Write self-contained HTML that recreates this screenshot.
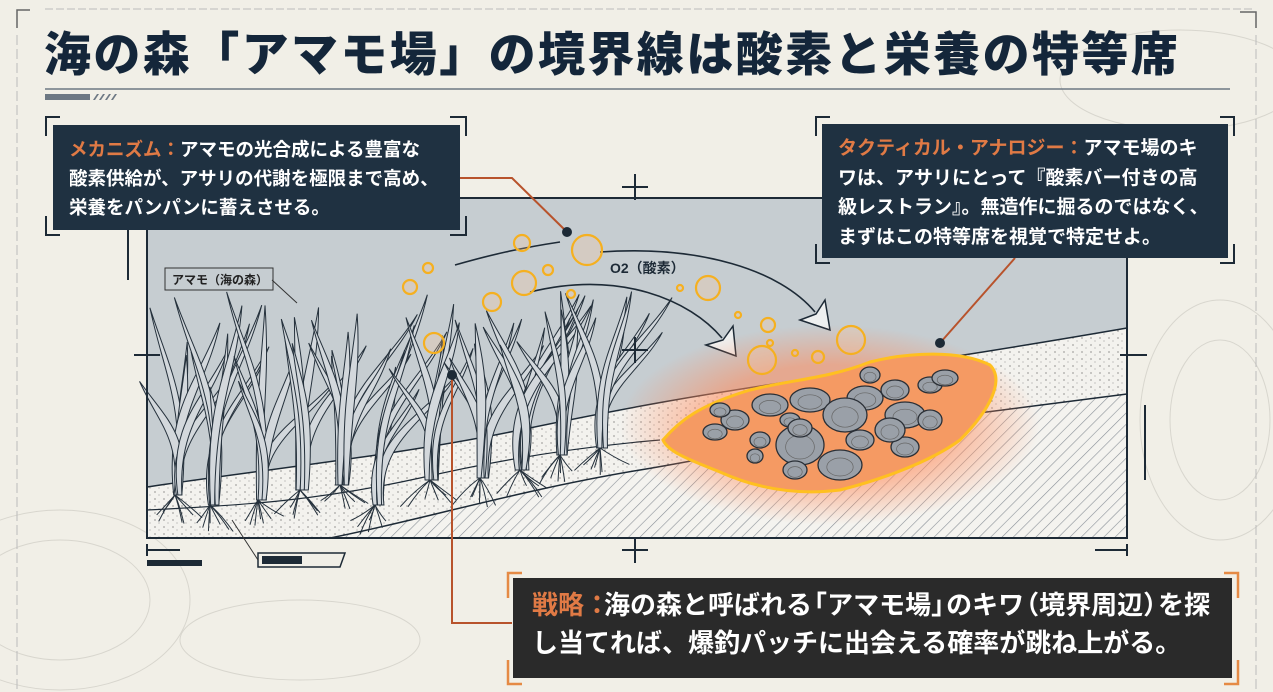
<!DOCTYPE html>
<html><head><meta charset="utf-8"><style>
html,body{margin:0;padding:0;}
body{width:1273px;height:692px;overflow:hidden;background:#f1efe7;position:relative;font-family:"Liberation Sans","Noto Sans CJK JP",sans-serif;}
.t{position:absolute;left:44px;top:20px;font-size:47px;font-weight:900;color:#14263a;letter-spacing:2.4px;white-space:nowrap;line-height:70px;}
.box{position:absolute;color:#fff;font-weight:700;white-space:nowrap;}
.or{color:#e07a45;}
.c{letter-spacing:-11px;}
.o{margin-left:-11px;}
svg{position:absolute;left:0;top:0;}
</style></head><body>
<svg id="s" width="1273" height="692" viewBox="0 0 1273 692">
<defs>
<pattern id="hatch" width="8" height="8" patternUnits="userSpaceOnUse" patternTransform="rotate(45)">
<rect width="8" height="8" fill="#f4f3ef"/><line x1="0" y1="0" x2="0" y2="8" stroke="#8a9098" stroke-width="1.2"/></pattern>
<pattern id="dots" width="9" height="7" patternUnits="userSpaceOnUse">
<rect width="9" height="7" fill="#f3f2ee"/><circle cx="2" cy="2" r="0.6" fill="#555"/><circle cx="6" cy="5" r="0.5" fill="#777"/></pattern>
<radialGradient id="glow" cx="50%" cy="50%" r="50%"><stop offset="0.6" stop-color="#ff8a5a" stop-opacity="0.55"/><stop offset="1" stop-color="#ff8a5a" stop-opacity="0"/></radialGradient>
</defs>
<g fill="none" stroke="#d8d6ce" stroke-width="1">
<ellipse cx="60" cy="600" rx="90" ry="60"/><ellipse cx="60" cy="600" rx="130" ry="90"/>
<ellipse cx="1220" cy="420" rx="80" ry="120"/><ellipse cx="1220" cy="420" rx="50" ry="80"/>
<ellipse cx="1180" cy="80" rx="120" ry="50"/><ellipse cx="300" cy="640" rx="120" ry="40"/>
</g>
<line x1="45" y1="9" x2="1255" y2="9" stroke="#bbb" stroke-dasharray="8 3"/>
<path d="M17 28 V10 H30" stroke="#666" fill="none" stroke-width="1.5"/>
<path d="M1240 12 H1256 V28" stroke="#666" fill="none" stroke-width="1.5"/>
<line x1="17" y1="35" x2="17" y2="690" stroke="#bbb" stroke-dasharray="10 4"/>
<line x1="1256" y1="35" x2="1256" y2="690" stroke="#bbb" stroke-dasharray="10 4"/>
<line x1="45" y1="89" x2="1230" y2="89" stroke="#6d7884" stroke-width="1.5"/>
<rect x="45" y="94" width="45" height="6" fill="#6d7884"/>
<g fill="#6d7884"><polygon points="93,100 97,94 99,94 95,100"/><polygon points="99,100 103,94 105,94 101,100"/><polygon points="105,100 109,94 111,94 107,100"/><polygon points="111,100 115,94 117,94 113,100"/></g>
<rect x="147" y="198" width="980" height="340" fill="#c6cdd1"/>
<path d="M147 487 C260 470 400 455 520 430 C640 405 700 395 800 380 C900 365 1000 350 1127 328 V538 H147 Z" fill="url(#dots)"/>
<path d="M330 538 C420 520 520 490 640 470 C760 450 820 432 940 418 C1020 408 1080 400 1127 394 V538 Z" fill="url(#hatch)"/>
<path d="M147 487 C260 470 400 455 520 430 C640 405 700 395 800 380 C900 365 1000 350 1127 328" fill="none" stroke="#1d2a36" stroke-width="1.5"/>
<path d="M330 538 C420 520 520 490 640 470 C760 450 820 432 940 418 C1020 408 1080 400 1127 394" fill="none" stroke="#1d2a36" stroke-width="1.5"/>
<path d="M147 510 C250 505 320 500 420 478 C520 455 600 445 660 440" fill="none" stroke="#1d2a36" stroke-width="1.2"/>
<g id="grass" fill="#d3d8dc" stroke="#25313c" stroke-width="1"></g>
<rect x="147" y="198" width="980" height="340" fill="none" stroke="#1d2a36" stroke-width="2"/>
<rect x="165" y="268" width="108" height="22" fill="#c6cdd1" stroke="#333" stroke-width="1"/>
<text x="172" y="284" font-size="12" font-weight="700" fill="#222" font-family="Liberation Sans,Noto Sans CJK JP,sans-serif">アマモ（海の森）</text>
<line x1="272" y1="280" x2="297" y2="303" stroke="#333"/>
<g fill="none" stroke="#1d2a36" stroke-width="1.6">
<path d="M455 265 C490 255 520 248 560 242"/>
<path d="M600 252 C700 245 780 270 815 312"/>
<path d="M530 292 C620 270 690 300 722 338"/>
</g>
<polygon points="800,320 830,330 825,300 816,314" fill="#eef0f0" stroke="#1d2a36" stroke-width="1.5"/>
<polygon points="706,345 736,356 733,326 723,340" fill="#eef0f0" stroke="#1d2a36" stroke-width="1.5"/>
<text x="610" y="273" font-size="14" font-weight="700" fill="#1d2a36" font-family="Liberation Sans,Noto Sans CJK JP,sans-serif">O2（酸素）</text>
<ellipse cx="830" cy="425" rx="210" ry="100" fill="url(#glow)"/>
<path d="M663 440 C680 420 700 405 750 390 C790 380 830 378 870 362 C910 352 960 350 990 365 C1005 380 990 410 960 440 C930 462 880 480 840 490 C800 495 760 490 720 472 C690 460 668 452 663 440 Z" fill="#f59a63" stroke="#ffc020" stroke-width="3"/>
<g id="clams" fill="#9aa0a8" stroke="#2a2f36" stroke-width="1.3"></g>
<g id="bub" fill="rgba(255,200,150,0.25)" stroke="#f5b020" stroke-width="2.2"></g>
<g fill="none" stroke="#1d2a36" stroke-width="2">
<path d="M46 136 V117 H60"/><path d="M450 117 H466 V136"/><path d="M46 216 V235 H60"/><path d="M450 235 H466 V216"/>
<path d="M816 136 V117 H830"/><path d="M1220 117 H1234 V136"/><path d="M816 244 V263 H830"/><path d="M1220 263 H1234 V244"/>
<path d="M128 198 V280"/><path d="M1145 405 V480"/>
<line x1="134" y1="355" x2="160" y2="355"/><line x1="147" y1="342" x2="147" y2="368"/>
<line x1="1120" y1="355" x2="1147" y2="355"/><line x1="1127" y1="342" x2="1127" y2="368"/>
<line x1="622" y1="187" x2="648" y2="187"/><line x1="635" y1="174" x2="635" y2="200"/>
<line x1="622" y1="550" x2="648" y2="550"/><line x1="635" y1="537" x2="635" y2="563"/>
<line x1="622" y1="350" x2="648" y2="350"/><line x1="635" y1="337" x2="635" y2="363"/>
<line x1="147" y1="550" x2="180" y2="550"/><line x1="147" y1="544" x2="147" y2="556"/>
<line x1="1095" y1="550" x2="1127" y2="550"/><line x1="1127" y1="544" x2="1127" y2="556"/>
</g>
<rect x="147" y="560" width="55" height="6" fill="#1d2a36"/>
<path d="M258 553 H345 L340 567 H258 Z" fill="none" stroke="#1d2a36" stroke-width="1.5"/>
<rect x="262" y="556" width="40" height="8" fill="#1d2a36"/>
<line x1="232" y1="520" x2="258" y2="560" stroke="#333"/>
<g fill="none" stroke="#e58a45" stroke-width="2.5">
<path d="M508 598 V573 H522"/><path d="M1224 573 H1238 V598"/><path d="M508 660 V684 H522"/><path d="M1224 684 H1238 V660"/>
</g>
<g stroke="#b8532c" stroke-width="2" fill="none">
<path d="M460 178 H512 L567 232"/><path d="M452 375 V623 H512"/><path d="M940 343 L1015 258"/>
</g>
<circle cx="567" cy="232" r="5" fill="#1d2a36"/><circle cx="452" cy="375" r="5" fill="#1d2a36"/><circle cx="940" cy="343" r="5" fill="#1d2a36"/>
</svg>
<div class="t">海の森「アマモ場」の境界線は酸素と栄養の特等席</div>
<div class="box" style="left:53px;top:125px;width:407px;height:105px;background:#1f3141;font-size:18.5px;line-height:29px;padding:10px 0 0 16px;box-sizing:border-box;"><span class="or">メカニズム：</span>アマモの光合成による豊富な<br>酸素供給が、アサリの代謝を極限まで高め、<br>栄養をパンパンに蓄えさせる。</div>
<div class="box" style="left:822px;top:124px;width:406px;height:134px;background:#1f3141;font-size:19px;line-height:29.5px;padding:10px 0 0 16px;box-sizing:border-box;"><span class="or">タクティカル・アナロジー：</span>アマモ場のキ<br>ワは、アサリにとって『酸素バー付きの高<br>級レストラン』。無造作に掘るのではなく、<br>まずはこの特等席を視覚で特定せよ。</div>
<div class="box" style="left:513px;top:578px;width:719px;height:100px;background:#2a2a2a;font-size:26px;line-height:38px;padding:8px 0 0 19px;box-sizing:border-box;"><span class="or">戦略<span style="letter-spacing:-6px">：</span></span>海の森と呼ばれる<span class="o">「</span>アマモ場<span class="c">」</span>のキワ<span class="o">（</span>境界周辺<span class="c">）</span>を探<br>し当てれば、爆釣パッチに出会える確率が跳ね上がる。</div>
<script>
var NS="http://www.w3.org/2000/svg";
var seed=11;function r(){seed=(seed*9301+49297)%233280;return seed/233280;}
var g=document.getElementById("grass");
var clumps=[[175,495],[210,505],[258,500],[300,490],[340,485],[375,505],[430,480],[480,478],[520,470],[560,455],[600,448]];
clumps.forEach(function(c){
 for(var j=0;j<7;j++){var p=document.createElementNS(NS,"path");
  var a=(r()-0.5)*60;p.setAttribute("d","M"+c[0]+" "+c[1]+" q"+(a/2)+" 10 "+a+" "+(15+r()*15));p.setAttribute("fill","none");g.appendChild(p);}
 var n=6+Math.floor(r()*4);
 for(var i=0;i<n;i++){
  var h=110+r()*(c[1]-290-110), dx=(r()-0.35)*120, x=c[0]+(r()-0.5)*10, y=c[1];
  var tx=x+dx, ty=y-h; var w=7+r()*5;
  var d="M"+x+" "+y+" C"+(x-dx*0.2)+" "+(y-h*0.5)+" "+(tx-dx*0.5)+" "+(ty+h*0.35)+" "+tx+" "+ty+
  " C"+(tx-dx*0.5+w)+" "+(ty+h*0.35)+" "+(x-dx*0.2+w)+" "+(y-h*0.5)+" "+(x+4)+" "+y+"Z";
  var p=document.createElementNS(NS,"path");p.setAttribute("d",d);g.appendChild(p);
 }
});
var cl=document.getElementById("clams");
[[735,420,14,10],[770,405,18,11],[790,420,10,7],[810,400,20,12],[865,398,18,12],[895,390,14,10],[930,385,12,8],[945,378,13,8],[720,410,10,7],[845,415,22,17],[800,445,24,20],[860,440,14,10],[905,415,20,13],[930,420,12,10],[760,440,10,8],[905,447,14,10],[715,432,12,8],[755,456,8,7],[795,470,12,9],[840,465,22,15],[800,428,12,9],[890,430,15,12],[870,375,10,8]].forEach(function(e){
 var el=document.createElementNS(NS,"ellipse");el.setAttribute("cx",e[0]);el.setAttribute("cy",e[1]);el.setAttribute("rx",e[2]);el.setAttribute("ry",e[3]);cl.appendChild(el);
 var l=document.createElementNS(NS,"ellipse");l.setAttribute("cx",e[0]);l.setAttribute("cy",e[1]+2);l.setAttribute("rx",e[2]*0.6);l.setAttribute("ry",e[3]*0.6);l.setAttribute("fill","none");l.setAttribute("stroke","#666");l.setAttribute("stroke-width","0.7");cl.appendChild(l);
});
var b=document.getElementById("bub");
[[522,243,8],[587,250,15],[428,268,5],[410,287,7],[548,270,5],[524,283,12],[492,302,9],[571,294,4],[708,288,12],[680,288,3],[738,315,3],[768,325,7],[770,343,3],[762,360,14],[795,353,3],[818,357,6],[851,340,14],[434,343,10]].forEach(function(c){
 var el=document.createElementNS(NS,"circle");el.setAttribute("cx",c[0]);el.setAttribute("cy",c[1]);el.setAttribute("r",c[2]);b.appendChild(el);
});
</script>
</body></html>
